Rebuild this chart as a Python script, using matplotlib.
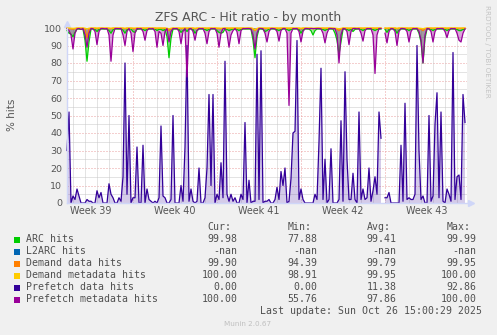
import numpy as np
import matplotlib
matplotlib.use("Agg")
import matplotlib.pyplot as plt
from matplotlib.patches import Rectangle

nan = np.nan

# ---------------- data (4-hour samples, hour 0 = left edge of graph) ----------------
SAMPLE_HOURS = 4

prefetch_data = [
    30, 52, 0, 4, 2, 8, 4, 0, 0, 0,
    2, 1, 1, 0, 0, 7, 3, 6, 0, 0,
    0, 11, 5, 3, 0, 0, 3, 1, 15, 80,
    5, 50, 0, 3, 3, 32, 0, 0, 33, 0,
    8, 2, 1, 0, 1, 0, 3, 44, 4, 3,
    0, 0, 2, 50, 0, 0, 0, 10, 1, 32,
    90, 1, 8, 1, 0, 1, 20, 0, 0, 3,
    20, 62, 10, 62, 0, 5, 2, 23, 3, 81,
    5, 1, 5, 1, 3, 0, 0, 5, 2, 46,
    0, 13, 0, 1, 1, 85, 2, 87, 0, 1,
    1, 2, 0, 0, 2, 9, 2, 18, 10, 20,
    0, 1, 14, 40, 41, 92.86, 2, 8, 2, 0,
    0, 0, 0, 0, 5, 2, 35, 77, 2, 25,
    0, 2, 31, 0, 0, 0, 2, 47, 1, 75,
    25, 2, 2, 17, 2, 0, 52, 2, 8, 2,
    3, 20, 1, 7, 15, 5, 52, 37, nan, 3,
    3, 6, 0, 0, 0, 0, 0, 33, 1, 57,
    2, 3, 2, 2, 5, 90, 30, 2, 4, 0,
    0, 50, 1, 4, 45, 63, 3, 52, 1, 0,
    8, 5, 1, 86, 2, 15, 16, 2, 62, 46,
]

prefetch_meta = [
    99.6, 98.5, 96, 88, 97, 99.5, 99.7, 99.2, 99.7, 96,
    89, 97, 99.7, 99.6, 98, 90.5, 98, 99.7, 99.7, 99.5,
    99.7, 96, 81, 96, 99.7, 99.7, 99.6, 99.7, 96, 90,
    98, 99.7, 97, 86.5, 97, 99.7, 99.5, 99.7, 98, 93,
    98.5, 99.7, 99.5, 99.7, 98, 89, 98, 97, 90, 98,
    99.7, 92, 98, 99.7, 99.6, 99.7, 98, 91, 98, 99.7,
    72, 99.5, 99.7, 98, 93, 98.5, 99.7, 99.6, 99.7, 97,
    91, 98, 99.7, 99.6, 99.7, 97, 89, 97, 99.6, 99.7,
    97, 89, 96, 98.5, 99.7, 98, 91, 98.5, 99.7, 99.6,
    99.7, 99.7, 99.5, 96, 88, 97, 99.7, 99.7, 99.6, 97,
    92, 98, 99.7, 99.7, 99.5, 98, 92.5, 98.5, 99.7, 99.7,
    97, 55.76, 97, 99.7, 99.6, 99.7, 98, 92, 98, 99.7,
    99.7, 99.5, 99.7, 99.7, 99.6, 99.7, 99.7, 99.5, 97, 91.5,
    97, 99.7, 99.7, 99.5, 99.7, 96, 80, 96, 99.7, 99.6,
    98, 90.5, 98, 99.7, 99.7, 99.5, 99.7, 97, 92.5, 98.5,
    99.7, 99.6, 99.7, 96, 74, 96, 99.7, 99.7, nan, 97,
    91.5, 98, 99.7, 99.6, 98, 90, 98, 99.7, 99.7, 99.5,
    98, 92, 98, 99.7, 99.6, 99.7, 98, 93, 80, 96,
    99.7, 99.6, 98, 92, 98, 99.7, 99.6, 99.7, 99.7, 98,
    94.5, 98.5, 99.7, 99.6, 99.7, 97, 93, 92, 97, 99.5,
]

arc_hits = [
    98.5, 97, 96.5, 95, 97.5, 99.4, 99.4, 99.2, 99.4, 93,
    81, 92, 99.4, 99.4, 99.2, 98, 99.2, 99.4, 99.4, 99.4,
    99.4, 98.5, 97, 99, 99.4, 99.4, 99.4, 99.4, 98.8, 97,
    99, 99.4, 99.4, 98, 97.5, 99.2, 99.4, 99.4, 99.2, 98.5,
    99.2, 99.4, 99.4, 99.4, 99.4, 98.5, 99.2, 99.2, 98.5, 99.2,
    95, 83, 94, 99.4, 99.4, 99.4, 99.2, 97.5, 98.5, 99.4,
    98, 99.4, 99.4, 99.2, 97, 98.5, 99.4, 99.4, 99.4, 99.2,
    98.5, 99.2, 99.4, 99.4, 99.4, 98.5, 97.5, 97, 97.5, 99.4,
    99.2, 98.5, 99, 99.4, 99.4, 99.2, 98.5, 99.2, 99.4, 99.4,
    99.4, 99.4, 99.4, 93, 83, 95, 99.4, 99.4, 99.2, 98,
    98.5, 99.4, 99.4, 99.4, 99.4, 99, 98.5, 99.2, 99.4, 99.4,
    99.2, 98.5, 99.2, 99.4, 99.4, 99.4, 99.2, 97, 98.8, 99.4,
    99.4, 99.4, 98.5, 96, 98.5, 99.4, 99.4, 99.4, 99.2, 98.5,
    99.2, 99.4, 99.4, 99.4, 97, 93, 85, 92, 99.2, 99.4,
    99.2, 98.5, 99.2, 98, 99.2, 99.4, 99.4, 99.2, 98.5, 99.4,
    99.4, 99.4, 99.4, 99.2, 98.5, 99.2, 99.4, 99.4, nan, 99.2,
    97.5, 99.2, 99.4, 99.4, 99.2, 97, 98.8, 99.4, 99.4, 99.4,
    99.2, 98.5, 99.2, 99.4, 99.4, 99.4, 97, 92, 80, 94,
    99.4, 99.4, 99.2, 98.5, 99.2, 99.4, 99.4, 99.4, 99.4, 99.2,
    98.5, 99.2, 99.4, 99.4, 99.4, 99.2, 98.5, 98.5, 99.2, 99.4,
]

demand_data = [
    99.8, 99.6, 99.5, 99.3, 99.6, 99.9, 99.9, 99.9, 99.9, 99.5,
    94.39, 99.3, 99.9, 99.9, 99.9, 99.7, 99.9, 99.9, 99.9, 99.9,
    99.9, 99.8, 99.6, 99.9, 99.9, 99.9, 99.9, 99.9, 99.8, 99.6,
    99.9, 99.9, 99.9, 99.7, 99.6, 99.9, 99.9, 99.9, 99.9, 99.8,
    99.9, 99.9, 99.9, 99.9, 99.9, 99.8, 99.9, 99.9, 99.8, 99.9,
    99.5, 98.5, 99.5, 99.9, 99.9, 99.9, 99.9, 99.7, 99.8, 99.9,
    99.8, 99.9, 99.9, 99.9, 99.6, 99.8, 99.9, 99.9, 99.9, 99.9,
    99.8, 99.9, 99.9, 99.9, 99.9, 99.8, 99.7, 99.6, 99.7, 99.9,
    99.9, 99.8, 99.9, 99.9, 99.9, 99.9, 99.8, 99.9, 99.9, 99.9,
    99.9, 99.9, 99.9, 99.5, 98.5, 99.5, 99.9, 99.9, 99.9, 99.8,
    99.8, 99.9, 99.9, 99.9, 99.9, 99.9, 99.8, 99.9, 99.9, 99.9,
    99.9, 99.8, 99.9, 99.9, 99.9, 99.9, 99.9, 99.6, 99.9, 99.9,
    99.9, 99.9, 99.8, 99.5, 99.8, 99.9, 99.9, 99.9, 99.9, 99.8,
    99.9, 99.9, 99.9, 99.9, 99.6, 99.4, 98.5, 99.4, 99.9, 99.9,
    99.9, 99.8, 99.9, 99.8, 99.9, 99.9, 99.9, 99.9, 99.8, 99.9,
    99.9, 99.9, 99.9, 99.9, 99.8, 99.9, 99.9, 99.9, nan, 99.9,
    99.7, 99.9, 99.9, 99.9, 99.9, 99.6, 99.9, 99.9, 99.9, 99.9,
    99.9, 99.8, 99.9, 99.9, 99.9, 99.9, 99.6, 99.3, 98.5, 99.5,
    99.9, 99.9, 99.9, 99.8, 99.9, 99.9, 99.9, 99.9, 99.9, 99.9,
    99.8, 99.9, 99.9, 99.9, 99.9, 99.9, 99.8, 99.8, 99.9, 99.9,
]

demand_meta = [
    100, 100, 99.9, 99.8, 99.9, 100, 100, 100, 100, 99.9,
    99.5, 99.9, 100, 100, 100, 100, 100, 100, 100, 100,
    100, 100, 99.9, 100, 100, 100, 100, 100, 100, 99.9,
    100, 100, 100, 100, 100, 100, 100, 100, 100, 100,
    100, 100, 100, 100, 100, 100, 100, 100, 100, 100,
    99.9, 99.6, 99.9, 100, 100, 100, 100, 100, 100, 100,
    100, 100, 100, 100, 99.9, 100, 100, 100, 100, 100,
    100, 100, 100, 100, 100, 100, 100, 99.9, 100, 100,
    100, 100, 100, 100, 100, 100, 100, 100, 100, 100,
    100, 100, 100, 99.8, 98.91, 99.8, 100, 100, 100, 100,
    100, 100, 100, 100, 100, 100, 100, 100, 100, 100,
    100, 100, 100, 100, 100, 100, 100, 99.9, 100, 100,
    100, 100, 100, 99.9, 100, 100, 100, 100, 100, 100,
    100, 100, 100, 100, 99.9, 99.8, 99.6, 99.8, 100, 100,
    100, 100, 100, 100, 100, 100, 100, 100, 100, 100,
    100, 100, 100, 100, 100, 100, 100, 100, nan, 100,
    100, 100, 100, 100, 100, 99.9, 100, 100, 100, 100,
    100, 100, 100, 100, 100, 100, 99.9, 99.8, 99.6, 99.9,
    100, 100, 100, 100, 100, 100, 100, 100, 100, 100,
    100, 100, 100, 100, 100, 100, 100, 100, 100, 100,
]

l2arc_hits = [nan] * len(prefetch_data)   # -nan throughout

week_labels = ["Week 39", "Week 40", "Week 41", "Week 42", "Week 43"]
week_start_hours = [-36, 132, 300, 468, 636]   # Monday 00:00 of each week (hours from left edge)
day_hours = list(range(12, 800, 24))
span_hours = 800

series_names = ["ARC hits", "L2ARC hits", "Demand data hits", "Demand metadata hits",
                "Prefetch data hits", "Prefetch metadata hits"]
series_colors = ["#00CC00", "#0066B3", "#FF8000", "#FFCC00", "#330099", "#990099"]
cur_vals = ["99.98", "-nan", "99.90", "100.00", "0.00", "100.00"]
min_vals = ["77.88", "-nan", "94.39", "98.91", "0.00", "55.76"]
avg_vals = ["99.41", "-nan", "99.79", "99.95", "11.38", "97.86"]
max_vals = ["99.99", "-nan", "99.95", "100.00", "92.86", "100.00"]

# ---------------- figure ----------------
W, H = 497, 335
fig = plt.figure(figsize=(W / 100, H / 100), dpi=100, facecolor="#F0F0F0")

def fx(x):
    return x / W

def fy(y):
    return 1 - y / H

ax = fig.add_axes([fx(67), fy(203), 400 / W, 175 / H])
ax.set_facecolor("white")
ax.set_xlim(0, span_hours)
ax.set_ylim(0, 100)

grid_red = "#EBA0A0"
grid_grey = "#C9C9C9"
for yv in range(5, 101, 5):
    if yv % 10 == 0:
        ax.axhline(yv, color=grid_red, lw=0.72, ls=(0, (1, 2)), zorder=1)
    else:
        ax.axhline(yv, color=grid_grey, lw=0.72, ls=(0, (1, 1)), zorder=1)
for xv in day_hours:
    if (xv - week_start_hours[1]) % 168 != 0:
        ax.axvline(xv, color=grid_grey, lw=0.72, ls=(0, (1, 1)), zorder=1)
for xv in week_start_hours[1:]:
    ax.axvline(xv, color=grid_red, lw=0.72, ls=(0, (1, 2)), zorder=1)

t = np.arange(len(prefetch_data)) * SAMPLE_HOURS
all_series = [arc_hits, l2arc_hits, demand_data, demand_meta, prefetch_data, prefetch_meta]

# shaded variation areas
ax.fill_between(t, np.array(arc_hits), 100, color="#00CC00", alpha=0.35, lw=0, zorder=2)
ax.fill_between(t, np.array(prefetch_meta), 100, color="#990099", alpha=0.35, lw=0, zorder=2)
ax.fill_between(t, 0, np.array(prefetch_data), color="#5533AA", alpha=0.25, lw=0, zorder=2)

for vals, col in zip(all_series, series_colors):
    ax.plot(t, vals, color=col, lw=0.9, zorder=3, clip_on=False)

for s in ["top", "right"]:
    ax.spines[s].set_visible(False)
for s in ["left", "bottom"]:
    ax.spines[s].set_color("#CFD6F8")
    ax.spines[s].set_linewidth(1.0)
    ax.spines[s].set_zorder(4)

# arrows
ax.plot([0], [1.025], marker="^", ms=4.5, color="#CFD6F8", transform=ax.transAxes, clip_on=False)
ax.plot([1.01], [0], marker=">", ms=4.5, color="#CFD6F8", transform=ax.transAxes, clip_on=False)

ax.set_yticks(range(0, 101, 10))
ax.set_yticklabels([str(v) for v in range(0, 101, 10)])
ax.tick_params(axis="y", length=0, pad=3.5, labelsize=6.8, labelcolor="#555555")
week_centers = [w + 84 for w in week_start_hours]
ax.set_xticks(week_centers)
ax.set_xticklabels(week_labels)
ax.tick_params(axis="x", length=0, pad=2.5, labelsize=6.9, labelcolor="#555555")

fig.text(fx(248.5), fy(18), "ZFS ARC - Hit ratio - by month", ha="center", va="center",
         fontsize=8.9, color="#555555")
fig.text(fx(12), fy(115), "% hits", rotation=90, ha="center", va="center",
         fontsize=7.5, color="#555555")
fig.text(fx(487), fy(5), "RRDTOOL / TOBI OETIKER", rotation=270, ha="center", va="top",
         fontsize=5.2, color="#C4C4C4")

# legend
mono = "DejaVu Sans Mono"
lfs = 7.1
tc = "#505050"
col_right = [237.7, 317.7, 396.7, 476.7]
headers = ["Cur:", "Min:", "Avg:", "Max:"]
for cx, hd in zip(col_right, headers):
    fig.text(fx(cx - 5.9), fy(227.3), hd, ha="right", va="center", fontsize=lfs,
             family=mono, color=tc)
for i, name in enumerate(series_names):
    yc = 239.5 + 12 * i
    fig.add_artist(Rectangle((fx(14), fy(yc + 3)), 6 / W, 6 / H, transform=fig.transFigure,
                             facecolor=series_colors[i], edgecolor="none"))
    fig.text(fx(26), fy(yc), name, ha="left", va="center", fontsize=lfs, family=mono, color=tc)
    for cx, vals in zip(col_right, [cur_vals, min_vals, avg_vals, max_vals]):
        fig.text(fx(cx), fy(yc), vals[i], ha="right", va="center", fontsize=lfs,
                 family=mono, color=tc)
fig.text(fx(482.3), fy(311.3), "Last update: Sun Oct 26 15:00:29 2025", ha="right", va="center",
         fontsize=lfs, family=mono, color=tc)
fig.text(fx(248), fy(324.5), "Munin 2.0.67", ha="center", va="center", fontsize=5.2,
         color="#C0C0C0")

fig.savefig("out.png", dpi=100, facecolor=fig.get_facecolor())
